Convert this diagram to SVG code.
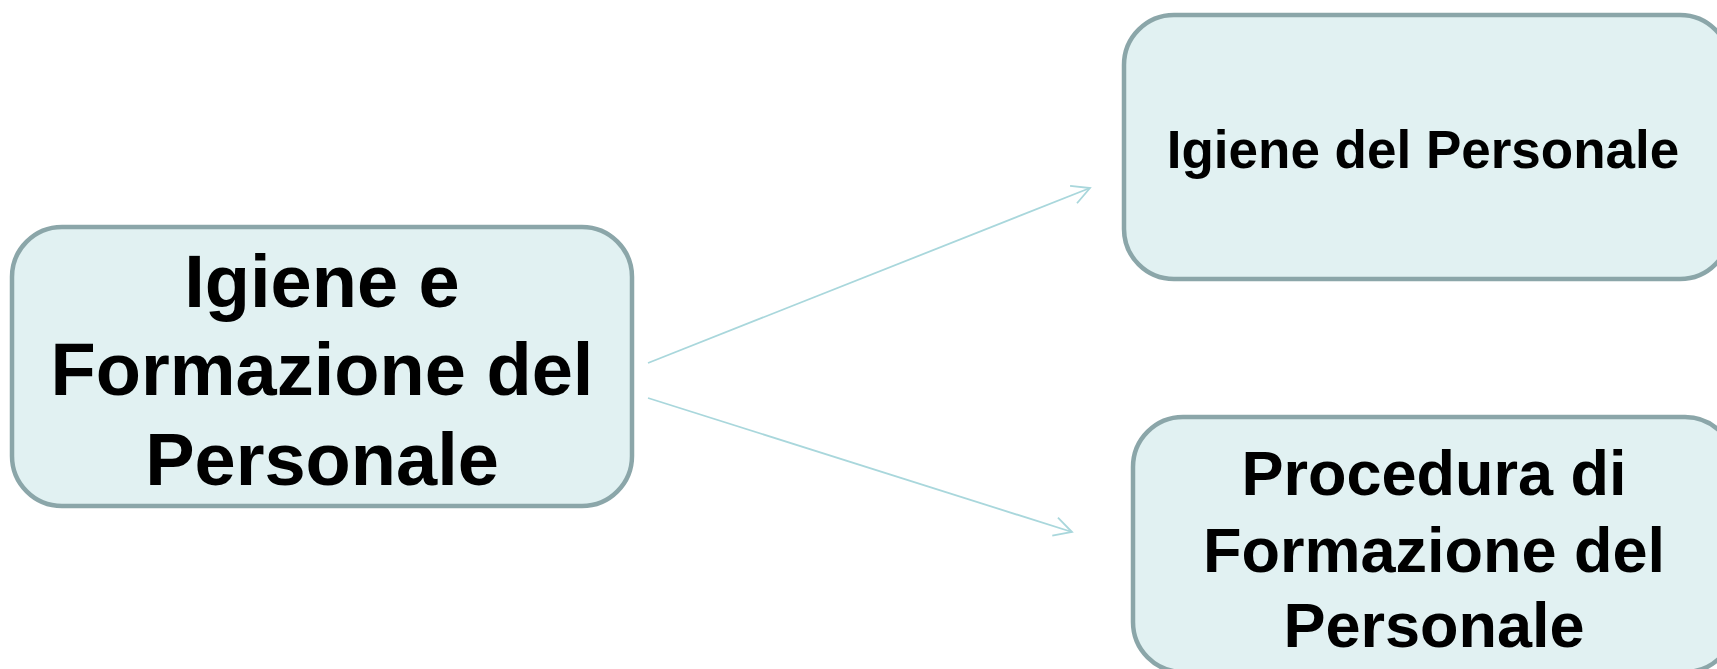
<svg xmlns="http://www.w3.org/2000/svg" width="1717" height="669" viewBox="0 0 1717 669">
  <style>
    .box { fill: #E1F1F2; stroke: #8BA6A9; stroke-width: 4.5; }
    .lbl { font-family: "Liberation Sans", Arial, sans-serif; font-weight: bold; fill: #000; text-anchor: middle; }
    .conn { stroke: #A9D7DC; stroke-width: 1.8; fill: none; }
  </style>
  <defs>
    <marker id="arrow" markerUnits="userSpaceOnUse" markerWidth="40" markerHeight="40" viewBox="-25 -20 40 40" refX="0" refY="0" orient="auto">
      <path d="M-17.7,-9.4 L0,0 L-17.7,9.4" fill="none" stroke="#A9D7DC" stroke-width="1.8"/>
    </marker>
  </defs>
  <rect width="1717" height="669" fill="#FFFFFF"/>
  <g id="connectors">
    <line class="conn" x1="648" y1="363" x2="1090" y2="188" marker-end="url(#arrow)"/>
    <line class="conn" x1="648" y1="398" x2="1072" y2="532" marker-end="url(#arrow)"/>
  </g>
  <g id="node-main">
    <rect class="box" x="12" y="227" width="620" height="279" rx="50" ry="50"/>
    <text class="lbl" font-size="74" x="322" y="307">Igiene e</text>
    <text class="lbl" font-size="74" x="322" y="395">Formazione del</text>
    <text class="lbl" font-size="74" x="322" y="485">Personale</text>
  </g>
  <g id="node-igiene">
    <rect class="box" x="1124" y="15" width="606" height="264" rx="50" ry="50"/>
    <text class="lbl" font-size="53" x="1423" y="168">Igiene del Personale</text>
  </g>
  <g id="node-procedura">
    <rect class="box" x="1133" y="417" width="602" height="255" rx="50" ry="50"/>
    <text class="lbl" font-size="63" x="1434" y="495">Procedura di</text>
    <text class="lbl" font-size="63" x="1434" y="572">Formazione del</text>
    <text class="lbl" font-size="63" x="1434" y="647">Personale</text>
  </g>
</svg>
